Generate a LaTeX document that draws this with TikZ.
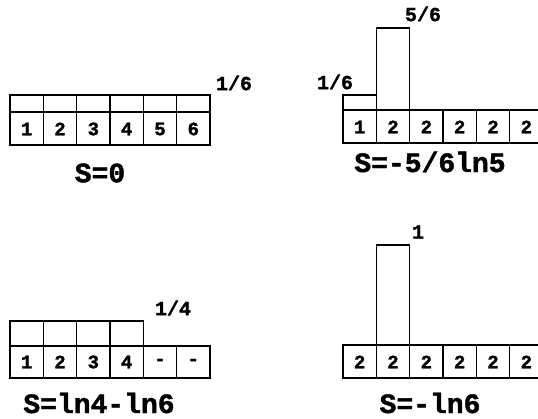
\documentclass[tikz,border=0pt]{standalone}
\usepackage{fontspec}
\setmainfont{Liberation Mono}[BoldFeatures={FakeBold=1.5}]
\begin{document}
\begin{tikzpicture}[x=1pt,y=-1pt,
  box/.style={draw, line width=1.4pt},
  thickline/.style={line width=2.8pt},
  digit/.style={font=\fontsize{19}{19}\selectfont\bfseries, inner sep=0pt},
  prob/.style={font=\fontsize{20}{20}\selectfont\bfseries, inner sep=0pt},
  entropy/.style={font=\fontsize{28}{28}\selectfont\bfseries, inner sep=0pt}]
\useasboundingbox (0,0) rectangle (538,419);
\clip (0,0) rectangle (538,419);
\def\w{33.33}

% uniform distribution over six states
\foreach \d [count=\i from 0] in {1,2,3,4,5,6} {
  \draw[box] ({10+\w*\i},95) rectangle ({10+\w*(\i+1)},112);
  \draw[box] ({10+\w*\i},112) rectangle ({10+\w*(\i+1)},145);
  \node[digit] (a\d) at ({10+\w*(\i+0.5)},129) {\d};
}
\node[prob] (pa) at (234,83) {1/6};
\node[entropy] (sa) at (100,173) {S=0};

% two occupied states
\foreach \d [count=\i from 0] in {1,2,2,2,2,2} {
  \draw[box] ({343+\w*\i},110) rectangle ({343+\w*(\i+1)},143);
  \node[digit] (b\i) at ({343+\w*(\i+0.5)},127) {\d};
}
\draw[box] (343,110) -- (343,95) -- (376.3,95) -- (376.3,110);
\draw[box] (376.3,110) -- (376.3,28) -- (409.7,28) -- (409.7,110);
\draw[thickline] (341.6,110) -- (545,110);
\node[prob] (pb1) at (335,82) {1/6};
\node[prob] (pb2) at (423,14) {5/6};
\node[entropy] (sb) at (430,162) {S=-5/6ln5};

% four equally likely states
\foreach \d [count=\i from 0] in {1,2,3,4,-,-} {
  \draw[box] ({10+\w*\i},346) rectangle ({10+\w*(\i+1)},378);
  \node[digit] (c\i) at ({10+\w*(\i+0.5)},362) {\d};
}
\foreach \i in {0,1,2,3} {
  \draw[box] ({10+\w*\i},321) rectangle ({10+\w*(\i+1)},346);
}
\node[prob] (pc) at (173,308) {1/4};
\node[entropy] (sc) at (99,403) {S=ln4-ln6};

% a single certain state
\foreach \i in {0,...,5} {
  \draw[box] ({343+\w*\i},345) rectangle ({343+\w*(\i+1)},378);
  \node[digit] (d\i) at ({343+\w*(\i+0.5)},362) {2};
}
\draw[box] (376.3,345) -- (376.3,245) -- (409.7,245) -- (409.7,345);
\draw[thickline] (341.6,345) -- (545,345);
\node[prob] (pd) at (418,232) {1};
\node[entropy] (sd) at (430,403) {S=-ln6};
\end{tikzpicture}
\end{document}
